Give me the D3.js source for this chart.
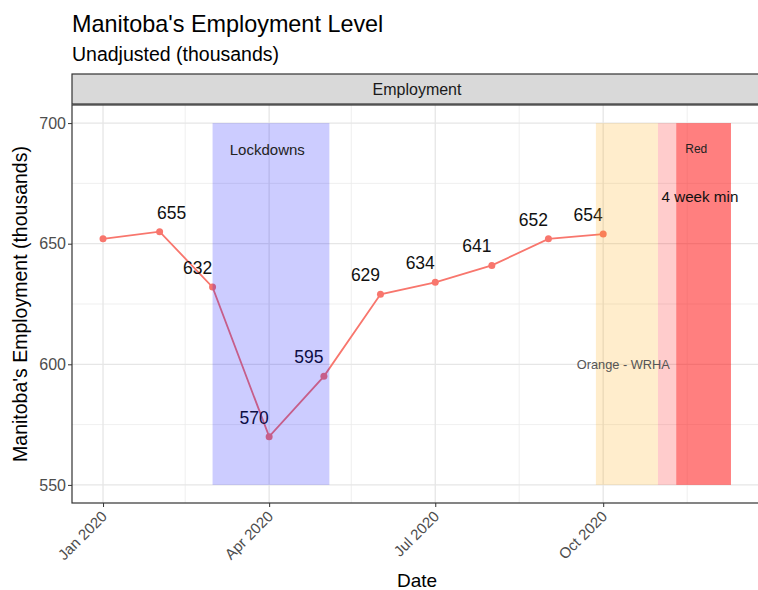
<!DOCTYPE html>
<html>
<head>
<meta charset="utf-8">
<script src="https://cdn.jsdelivr.net/npm/d3@7"></script>
<style>
  body { margin: 0; background: #fff; }
  svg { font-family: "Liberation Sans", Arial, sans-serif; display: block; }
</style>
</head>
<body>
<svg id="chart" width="758" height="590"></svg>
<script>
// ---- Data
const months = ["2020-01-01", "2020-02-01", "2020-03-01", "2020-04-01", "2020-05-01",
                "2020-06-01", "2020-07-01", "2020-08-01", "2020-09-01", "2020-10-01"];
const employment = [652, 655, 632, 570, 595, 629, 634, 641, 652, 654];
const showLabel = [false, true, true, true, true, true, true, true, true, true];

const periodNames = ["Lockdowns", "Orange - WRHA", "Orange - Province", "Red"];
const periodStarts = ["2020-03-01", "2020-09-27", "2020-10-31", "2020-11-10"];
const periodEnds = ["2020-05-04", "2020-10-31", "2020-11-10", "2020-12-10"];

const notes = ["Lockdowns", "Orange - WRHA", "Red", "4 week min"];
const noteDates = ["2020-03-31", "2020-10-12", "2020-11-21", "2020-11-23"];
const noteValues = [689, 600, 689.5, 669.5];

const yTicks = [550, 600, 650, 700];
const yMinor = [575, 625, 675];
const xTicks = ["2020-01-01", "2020-04-01", "2020-07-01", "2020-10-01"];
const xMinor = ["2020-02-15", "2020-05-16", "2020-08-16", "2020-11-16"];

const parse = d3.timeParse("%Y-%m-%d");
const data = months.map((m, i) => ({ date: parse(m), value: employment[i], label: showLabel[i] }));

// ---- Layout
const svg = d3.select("#chart");
const panel = { left: 72, right: 762, top: 105, bottom: 503 };

const mapX = d3.scaleTime()
    .domain([parse("2019-12-15"), parse("2020-12-27")])
    .range([panel.left, panel.right]);
const mapY = d3.scaleLinear()
    .domain([542.5, 707.5])
    .range([panel.bottom, panel.top]);

// Title
svg.append("text").attr("x", 72).attr("y", 32)
    .style("font-size", "23.4px").attr("fill", "#000")
    .text("Manitoba's Employment Level");
svg.append("text").attr("x", 72).attr("y", 61)
    .style("font-size", "19.5px").attr("fill", "#000")
    .text("Unadjusted (thousands)");

// Strip
svg.append("rect")
    .attr("x", panel.left).attr("y", 74)
    .attr("width", panel.right - panel.left).attr("height", 30)
    .attr("fill", "#d9d9d9").attr("stroke", "#333").attr("stroke-width", 1.2);
svg.append("text")
    .attr("x", 417).attr("y", 95)
    .attr("text-anchor", "middle").style("font-size", "16px").attr("fill", "#1a1a1a")
    .text("Employment");

// Panel background + grid
svg.append("rect")
    .attr("x", panel.left).attr("y", panel.top)
    .attr("width", panel.right - panel.left).attr("height", panel.bottom - panel.top)
    .attr("fill", "#fff");

const grid = svg.append("g");
grid.selectAll(".ymin").data(yMinor).enter().append("line")
    .attr("x1", panel.left).attr("x2", panel.right)
    .attr("y1", d => mapY(d)).attr("y2", d => mapY(d))
    .attr("stroke", "#ebebeb").attr("stroke-width", 0.8);
grid.selectAll(".xmin").data(xMinor).enter().append("line")
    .attr("y1", panel.top).attr("y2", panel.bottom)
    .attr("x1", d => mapX(parse(d))).attr("x2", d => mapX(parse(d)))
    .attr("stroke", "#ebebeb").attr("stroke-width", 0.8);
grid.selectAll(".ymaj").data(yTicks).enter().append("line")
    .attr("x1", panel.left).attr("x2", panel.right)
    .attr("y1", d => mapY(d)).attr("y2", d => mapY(d))
    .attr("stroke", "#e6e6e6").attr("stroke-width", 1.3);
grid.selectAll(".xmaj").data(xTicks).enter().append("line")
    .attr("y1", panel.top).attr("y2", panel.bottom)
    .attr("x1", d => mapX(parse(d))).attr("x2", d => mapX(parse(d)))
    .attr("stroke", "#e6e6e6").attr("stroke-width", 1.3);

// ---- Line + points
const line = d3.line().x(d => mapX(d.date)).y(d => mapY(d.value));
svg.append("path").datum(data)
    .attr("fill", "none").attr("stroke", "#F8766D").attr("stroke-width", 1.8)
    .attr("d", line);
svg.append("g").selectAll("circle").data(data).enter().append("circle")
    .attr("cx", d => mapX(d.date)).attr("cy", d => mapY(d.value))
    .attr("r", 3.5).attr("fill", "#F8766D");

// Value labels (Feb label sits to the right, others up-left)
svg.append("g").selectAll("text").data(data.filter(d => d.label)).enter().append("text")
    .attr("x", d => mapX(d.date) + (d.date.getMonth() === 1 ? 12 : -15))
    .attr("y", d => mapY(d.value) - 13)
    .attr("text-anchor", "middle").style("font-size", "17.5px").attr("fill", "#111")
    .text(d => d.value);

// ---- Shaded periods (drawn on top, semi-transparent)
const periodFill = ["#0000ff", "#ffa500", "#ff0000", "#ff0000"];
const periodAlpha = [0.2, 0.2, 0.2, 0.5];
svg.append("g").selectAll("rect").data(periodNames).enter().append("rect")
    .attr("x", (d, i) => mapX(parse(periodStarts[i])))
    .attr("width", (d, i) => mapX(parse(periodEnds[i])) - mapX(parse(periodStarts[i])))
    .attr("y", mapY(700)).attr("height", mapY(550) - mapY(700))
    .attr("fill", (d, i) => periodFill[i]).attr("fill-opacity", (d, i) => periodAlpha[i]);

// Annotations
const noteSize = ["15px", "12.8px", "12px", "15.2px"];
const noteColor = ["#222", "#555", "#222", "#111"];
svg.append("g").selectAll("text").data(notes).enter().append("text")
    .attr("x", (d, i) => mapX(parse(noteDates[i])))
    .attr("y", (d, i) => mapY(noteValues[i]))
    .attr("dy", "0.35em")
    .attr("text-anchor", "middle")
    .style("font-size", (d, i) => noteSize[i]).attr("fill", (d, i) => noteColor[i])
    .text(d => d);

// Panel border
svg.append("rect")
    .attr("x", panel.left).attr("y", panel.top)
    .attr("width", panel.right - panel.left).attr("height", panel.bottom - panel.top)
    .attr("fill", "none").attr("stroke", "#333").attr("stroke-width", 1.2);

// ---- Axes
const yAxis = d3.axisLeft(mapY).tickValues(yTicks).tickSize(4).tickPadding(2);
const gy = svg.append("g").attr("transform", `translate(${panel.left},0)`).call(yAxis);
gy.select(".domain").remove();
gy.selectAll(".tick line").attr("stroke", "#333");
gy.selectAll(".tick text").style("font-size", "16px").attr("fill", "#4d4d4d")
    .style("font-family", "Liberation Sans, Arial, sans-serif");

const xAxis = d3.axisBottom(mapX).tickValues(xTicks.map(parse))
    .tickFormat(d3.timeFormat("%b %Y")).tickSize(4);
const gx = svg.append("g").attr("transform", `translate(0,${panel.bottom})`).call(xAxis);
gx.select(".domain").remove();
gx.selectAll(".tick line").attr("stroke", "#333");
gx.selectAll(".tick text")
    .style("font-size", "15px").attr("fill", "#4d4d4d")
    .style("font-family", "Liberation Sans, Arial, sans-serif")
    .attr("text-anchor", "end")
    .attr("transform", "rotate(-45)")
    .attr("x", -7).attr("y", 8).attr("dy", "0.35em");

// Axis titles
svg.append("text")
    .attr("x", 417).attr("y", 587)
    .attr("text-anchor", "middle").style("font-size", "19px").attr("fill", "#000")
    .text("Date");
svg.append("text")
    .attr("transform", `translate(27, ${(panel.top + panel.bottom) / 2}) rotate(-90)`)
    .attr("text-anchor", "middle").style("font-size", "19.5px").attr("fill", "#000")
    .text("Manitoba's Employment (thousands)");
</script>
</body>
</html>
